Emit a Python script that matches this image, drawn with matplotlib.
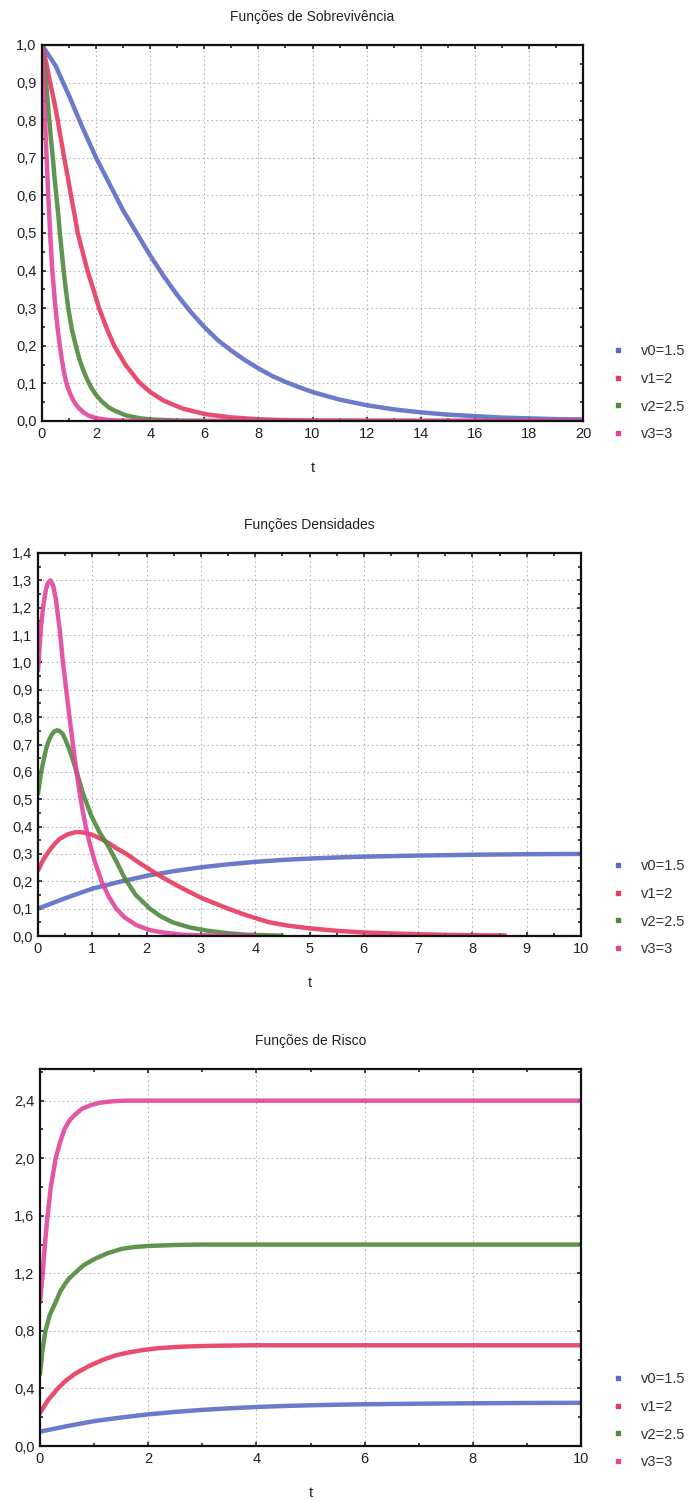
import matplotlib
matplotlib.use("Agg")
import matplotlib.pyplot as plt
from matplotlib.ticker import FuncFormatter, MultipleLocator
from matplotlib.lines import Line2D

plt.rcParams['font.family'] = ['Liberation Sans Narrow', 'Liberation Sans', 'DejaVu Sans']

labels = ["v0=1.5", "v1=2", "v2=2.5", "v3=3"]
colors = ["#5b6cc4", "#e63a5e", "#4e8a3e", "#e2439c"]

# --- Funções de Sobrevivência ---
surv_t = [
    [0, 0.5, 1, 1.5, 2, 2.5, 3, 3.5, 4, 4.5, 5, 5.5, 6, 6.5, 7, 7.5, 8, 8.5, 9, 9.5, 10,
     11, 12, 13, 14, 15, 16, 17, 18, 19, 20],
    [0, 0.15, 0.3, 0.45, 0.58, 0.7, 0.82, 0.95, 1.07, 1.2, 1.32, 1.5, 1.68, 1.9, 2.11, 2.4,
     2.67, 3.1, 3.59, 4.0, 4.5, 5.2, 6.05, 7, 8, 9, 10, 12, 20],
    [0, 0.07, 0.15, 0.21, 0.27, 0.33, 0.4, 0.46, 0.53, 0.6, 0.66, 0.73, 0.8, 0.88, 0.97, 1.1,
     1.25, 1.37, 1.5, 1.65, 1.81, 2.0, 2.2, 2.45, 2.67, 3.1, 3.6, 4.0, 5, 6, 20],
    [0, 0.03, 0.06, 0.085, 0.11, 0.14, 0.17, 0.2, 0.23, 0.265, 0.3, 0.34, 0.38, 0.44, 0.5,
     0.57, 0.65, 0.72, 0.8, 0.87, 0.95, 1.05, 1.15, 1.26, 1.38, 1.55, 1.7, 2.0, 2.5, 3, 4, 20],
]
surv_v = [
    [1.0, 0.945, 0.865, 0.78, 0.70, 0.63, 0.56, 0.50, 0.44, 0.385, 0.335, 0.29, 0.25, 0.215,
     0.187, 0.162, 0.14, 0.12, 0.104, 0.09, 0.077, 0.057, 0.042, 0.031, 0.023, 0.017, 0.013,
     0.009, 0.007, 0.005, 0.004],
    [1.0, 0.955, 0.9, 0.85, 0.8, 0.75, 0.7, 0.65, 0.6, 0.55, 0.5, 0.45, 0.4, 0.35, 0.3, 0.245,
     0.2, 0.148, 0.103, 0.077, 0.054, 0.033, 0.018, 0.0095, 0.0047, 0.0023, 0.0011, 0.0003, 0.0],
    [1.0, 0.955, 0.9, 0.85, 0.8, 0.75, 0.7, 0.65, 0.6, 0.55, 0.5, 0.45, 0.4, 0.35, 0.3, 0.245,
     0.2, 0.168, 0.14, 0.114, 0.09, 0.069, 0.053, 0.037, 0.028, 0.015, 0.0075, 0.0043, 0.001,
     0.0002, 0.0],
    [1.0, 0.95, 0.9, 0.85, 0.8, 0.75, 0.7, 0.65, 0.6, 0.55, 0.5, 0.45, 0.4, 0.35, 0.3, 0.25,
     0.205, 0.17, 0.135, 0.11, 0.09, 0.071, 0.056, 0.043, 0.033, 0.022, 0.015, 0.0075, 0.0023,
     0.0007, 0.0001, 0.0],
]

# --- Funções Densidades ---
dens_t = [
    [0, 0.5, 1, 1.5, 2, 2.5, 3, 3.5, 4, 4.5, 5, 5.5, 6, 7, 8, 9, 10],
    [0, 0.1, 0.2, 0.3, 0.4, 0.55, 0.7, 0.85, 1.0, 1.15, 1.3, 1.45, 1.63, 1.8, 2.0, 2.2, 2.42,
     2.7, 3.0, 3.25, 3.5, 3.85, 4.26, 4.6, 5, 5.5, 6, 6.5, 7, 7.5, 8, 8.6],
    [0, 0.05, 0.1, 0.15, 0.2, 0.25, 0.3, 0.35, 0.39, 0.45, 0.5, 0.6, 0.71, 0.83, 0.98, 1.13,
     1.29, 1.45, 1.6, 1.8, 2.06, 2.25, 2.48, 2.8, 3.1, 3.45, 3.8, 4.5],
    [0, 0.03, 0.06, 0.1, 0.14, 0.18, 0.23, 0.28, 0.33, 0.4, 0.46, 0.52, 0.58, 0.65, 0.71, 0.77,
     0.83, 0.89, 0.95, 1.05, 1.17, 1.3, 1.44, 1.6, 1.81, 2.05, 2.3, 2.65, 3, 3.5, 4],
]
dens_v = [
    [0.10, 0.138, 0.173, 0.198, 0.22, 0.237, 0.251, 0.262, 0.271, 0.278, 0.283, 0.287, 0.29,
     0.294, 0.297, 0.299, 0.30],
    [0.24, 0.28, 0.31, 0.335, 0.355, 0.372, 0.38, 0.378, 0.37, 0.356, 0.34, 0.32, 0.30, 0.276,
     0.25, 0.225, 0.20, 0.17, 0.14, 0.12, 0.10, 0.075, 0.05, 0.038, 0.028, 0.019, 0.013,
     0.0095, 0.0065, 0.0045, 0.003, 0.002],
    [0.52, 0.59, 0.64, 0.685, 0.715, 0.735, 0.748, 0.752, 0.75, 0.74, 0.72, 0.67, 0.6, 0.52,
     0.44, 0.38, 0.33, 0.27, 0.21, 0.15, 0.10, 0.073, 0.05, 0.031, 0.02, 0.011, 0.005, 0.001],
    [0.97, 1.06, 1.14, 1.21, 1.26, 1.29, 1.30, 1.28, 1.23, 1.12, 1.0, 0.9, 0.8, 0.69, 0.6, 0.52,
     0.45, 0.39, 0.34, 0.27, 0.2, 0.145, 0.1, 0.067, 0.04, 0.022, 0.013, 0.005, 0.0025, 0.0008,
     0.0002],
]

# --- Funções de Risco ---
risk_t = [
    [0, 0.5, 1, 1.5, 2, 2.5, 3, 3.5, 4, 4.5, 5, 5.5, 6, 7, 8, 9, 10],
    [0, 0.15, 0.33, 0.48, 0.64, 0.9, 1.17, 1.4, 1.64, 1.9, 2.2, 2.6, 3, 3.5, 4, 10],
    [0, 0.04, 0.1, 0.18, 0.29, 0.37, 0.45, 0.54, 0.64, 0.8, 1.01, 1.25, 1.51, 1.75, 2.0, 2.5,
     3, 10],
    [0, 0.025, 0.05, 0.09, 0.14, 0.2, 0.29, 0.37, 0.45, 0.54, 0.64, 0.78, 0.95, 1.1, 1.26,
     1.45, 1.6, 2, 10],
]
risk_v = [
    [0.10, 0.138, 0.173, 0.198, 0.22, 0.237, 0.251, 0.262, 0.271, 0.278, 0.283, 0.287, 0.29,
     0.294, 0.297, 0.299, 0.30],
    [0.23, 0.32, 0.4, 0.455, 0.5, 0.555, 0.6, 0.63, 0.65, 0.667, 0.68, 0.69, 0.695, 0.698, 0.7,
     0.7],
    [0.5, 0.65, 0.8, 0.91, 1.0, 1.07, 1.12, 1.165, 1.2, 1.255, 1.3, 1.34, 1.37, 1.383, 1.39,
     1.397, 1.4, 1.4],
    [1.0, 1.1, 1.2, 1.4, 1.6, 1.8, 2.0, 2.11, 2.2, 2.26, 2.3, 2.345, 2.37, 2.385, 2.393, 2.398,
     2.4, 2.4, 2.4],
]

comma = FuncFormatter(lambda v, p: ("%.1f" % v).replace(".", ","))
intfmt = FuncFormatter(lambda v, p: "%d" % round(v))

W, H = 693.0, 1500.0
fig = plt.figure(figsize=(6.93, 15), dpi=100)


def panel(box, title, ts, vs, xmax, xstep, ystep, ytop, leg_y):
    l, t, r, b = box
    ax = fig.add_axes([l / W, 1 - b / H, (r - l) / W, (b - t) / H])
    for tt, vv, c in zip(ts, vs, colors):
        ax.plot(tt, vv, color=c, lw=3.2, solid_capstyle="round", solid_joinstyle="round",
                alpha=0.9)
    ax.set_xlim(0, xmax)
    ax.set_ylim(0, ytop)
    ax.xaxis.set_major_locator(MultipleLocator(xstep))
    ax.yaxis.set_major_locator(MultipleLocator(ystep))
    ax.xaxis.set_minor_locator(MultipleLocator(xstep / 2))
    ax.yaxis.set_minor_locator(MultipleLocator(ystep / 2))
    ax.yaxis.set_major_formatter(comma)
    ax.xaxis.set_major_formatter(intfmt)
    ax.grid(True, which="major", color="#b8b8b8", ls=(0, (1.5, 2.5)), lw=0.8)
    ax.tick_params(which="both", direction="in", top=True, right=True, labelsize=10.5,
                   colors="#222222", length=3, width=1.2, pad=4)
    ax.tick_params(which="minor", length=2)
    for s in ax.spines.values():
        s.set_linewidth(1.6)
        s.set_color("#111111")
    ax.set_title(title, fontsize=10, color="#222222", pad=17.5)
    ax.set_xlabel("t", fontsize=10.5, color="#222222", labelpad=15)
    handles = [Line2D([], [], ls="none", marker="s", ms=2.5, color=c) for c in colors]
    leg = ax.legend(handles, labels, loc="upper left", frameon=False, fontsize=10.5,
                    bbox_to_anchor=((606 - l) / (r - l), (b - leg_y) / (b - t)),
                    handlelength=0.8, handletextpad=1.2, labelspacing=0.95, borderaxespad=0)
    for txt in leg.get_texts():
        txt.set_color("#333333")
    return ax


panel((42, 45, 583, 421), "Funções de Sobrevivência", surv_t, surv_v, 20, 2, 0.1, 1.0, 338)
panel((38, 553, 581, 936), "Funções Densidades", dens_t, dens_v, 10, 1, 0.1, 1.4, 853)
panel((40, 1069, 581, 1446), "Funções de Risco", risk_t, risk_v, 10, 2, 0.4, 2.62, 1366)

fig.savefig("out.png", dpi=100, facecolor="white")
